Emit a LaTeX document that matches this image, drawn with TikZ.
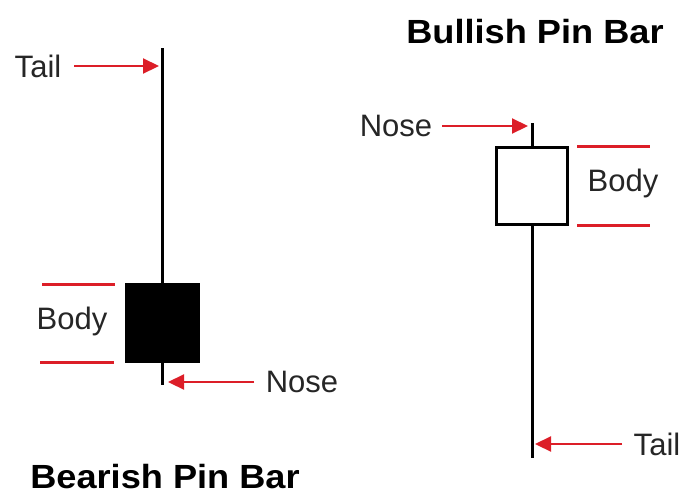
\documentclass[tikz,border=0pt]{standalone}
\usepackage{fontspec}
\setmainfont{Liberation Sans}
\usetikzlibrary{arrows.meta}
\definecolor{pinred}{RGB}{220,30,40}
\newcommand{\widettl}[1]{\scalebox{1.08}[1]{#1}}
\begin{document}
\begin{tikzpicture}[x=1pt,y=-1pt,
  wick/.style={line width=3pt,black},
  bodybox/.style={draw=black,line width=3pt},
  redline/.style={line width=3pt,pinred},
  redarrow/.style={line width=2.2pt,pinred,-{Triangle[length=16pt,width=15pt]}},
  lbl/.style={font=\fontsize{31}{34}\selectfont,inner sep=0pt,text=black!85},
  ttl/.style={font=\fontsize{33.5}{38}\selectfont\bfseries,inner sep=0pt,text=black}]
\useasboundingbox (0,0) rectangle (686,496);
% ---- Bearish ----
\coordinate (lwtop) at (162,48);
\coordinate (lwbot) at (162,385);
\draw[wick] (lwtop) -- (lwbot);
\node[bodybox,fill=black,minimum width=72pt,minimum height=77pt,inner sep=0pt] (lbody) at (162.5,323) {};
\coordinate (lr1a) at (42,284); \coordinate (lr1b) at (115,284);
\coordinate (lr2a) at (40,362); \coordinate (lr2b) at (114,362);
\draw[redline] (lr1a) -- (lr1b);
\draw[redline] (lr2a) -- (lr2b);
\node[lbl] (lbodyt) at (72,321) {Body};
\node[lbl] (ltail) at (38,66) {Tail};
\coordinate (ltailfrom) at (74,66);
\coordinate (ltailto) at (159,66);
\draw[redarrow] (ltailfrom) -- (ltailto);
\node[lbl] (lnose) at (302,382) {Nose};
\coordinate (lnosefrom) at (254,382);
\coordinate (lnoseto) at (168,382);
\draw[redarrow] (lnosefrom) -- (lnoseto);
\node[ttl] (ltitle) at (165,477) {\widettl{Bearish Pin Bar}};
% ---- Bullish ----
\node[ttl] (rtitle) at (535,32) {\widettl{Bullish Pin Bar}};
\coordinate (rwtop) at (532,123);
\coordinate (rwbot) at (532,458);
\draw[wick] (rwtop) -- (rwbot);
\node[bodybox,fill=white,minimum width=71pt,minimum height=77pt,inner sep=0pt] (rbody) at (531.5,185.5) {};
\coordinate (rr1a) at (577,146); \coordinate (rr1b) at (650,146);
\coordinate (rr2a) at (577,225); \coordinate (rr2b) at (650,225);
\draw[redline] (rr1a) -- (rr1b);
\draw[redline] (rr2a) -- (rr2b);
\node[lbl] (rbodyt) at (623,183) {Body};
\node[lbl] (rnose) at (396,126) {Nose};
\coordinate (rnosefrom) at (442,126);
\coordinate (rnoseto) at (528,126);
\draw[redarrow] (rnosefrom) -- (rnoseto);
\node[lbl] (rtail) at (657,444) {Tail};
\coordinate (rtailfrom) at (622,444);
\coordinate (rtailto) at (535,444);
\draw[redarrow] (rtailfrom) -- (rtailto);
\end{tikzpicture}
\end{document}
